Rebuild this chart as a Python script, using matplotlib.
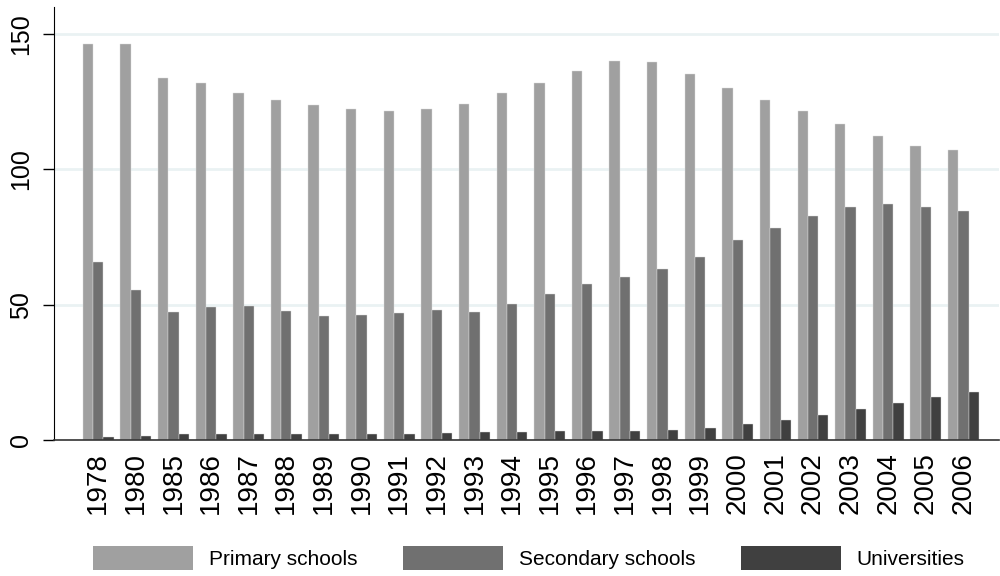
import matplotlib.pyplot as plt
import numpy as np
from matplotlib.patches import Patch

plt.rcParams['font.family'] = ['Liberation Sans', 'DejaVu Sans']

# Data
years = ["1978", "1980", "1985", "1986", "1987", "1988", "1989", "1990", "1991", "1992",
         "1993", "1994", "1995", "1996", "1997", "1998", "1999", "2000", "2001", "2002",
         "2003", "2004", "2005", "2006"]
primary = [146.4, 146.4, 133.7, 131.8, 128.3, 125.6, 123.8, 122.5, 121.7, 122.2,
           124.3, 128.3, 132.1, 136.2, 140.0, 139.7, 135.4, 130.1, 125.6, 121.7,
           116.9, 112.5, 108.8, 107.3]
secondary = [65.7, 55.3, 47.3, 49.2, 49.7, 47.7, 45.8, 46.1, 47.1, 48.1,
             47.4, 50.2, 53.9, 57.6, 60.3, 63.1, 67.8, 73.9, 78.4, 82.9,
             86.0, 87.1, 86.0, 84.7]
universities = [1.1, 1.5, 2.1, 2.1, 2.3, 2.3, 2.3, 2.3, 2.3, 2.6,
                2.8, 3.0, 3.3, 3.3, 3.5, 3.7, 4.4, 5.8, 7.5, 9.4,
                11.3, 13.7, 15.8, 17.6]
series_names = ["Primary schools", "Secondary schools", "Universities"]
colors = ["#a0a0a0", "#707070", "#404040"]

fig = plt.figure(figsize=(10, 5.76), dpi=100)
ax = fig.add_axes([0.054, 0.2361, 0.945, 0.7517])

x = np.arange(len(years))
w = 0.274
for k, vals in enumerate([primary, secondary, universities]):
    ax.bar(x + (k - 1) * w, vals, width=w, color=colors[k], edgecolor='#dddddd',
           linewidth=0.3, zorder=2)

ax.set_xlim(-1.175, len(years) - 1 + 0.944)
ax.set_ylim(0, 160)
ax.set_yticks([0, 50, 100, 150])
ax.set_xticks(x)
ax.set_xticklabels(years)

for y in [50, 100, 150]:
    ax.axhline(y, color='#eaf2f3', linewidth=2, zorder=1)

ax.spines['top'].set_visible(False)
ax.spines['right'].set_visible(False)
ax.spines['left'].set_color('black')
ax.spines['bottom'].set_color('#333333')
ax.spines['bottom'].set_linewidth(1.2)
ax.spines['bottom'].set_zorder(4)

ax.tick_params(axis='x', length=0, pad=8.5, labelsize=20, labelrotation=90)
ax.tick_params(axis='y', length=8, width=1, pad=7, labelsize=18, labelrotation=90)
for lab in ax.get_yticklabels():
    lab.set_va('center')

handles = [Patch(facecolor=c, edgecolor='none') for c in colors]
fig.legend(handles, series_names, loc='center', bbox_to_anchor=(0.529, 0.031),
           ncol=3, frameon=False, fontsize=15, handlelength=4.8, handleheight=1.35,
           handletextpad=0.77, columnspacing=2.16, borderpad=0, borderaxespad=0)

fig.savefig("out.png", dpi=100)
